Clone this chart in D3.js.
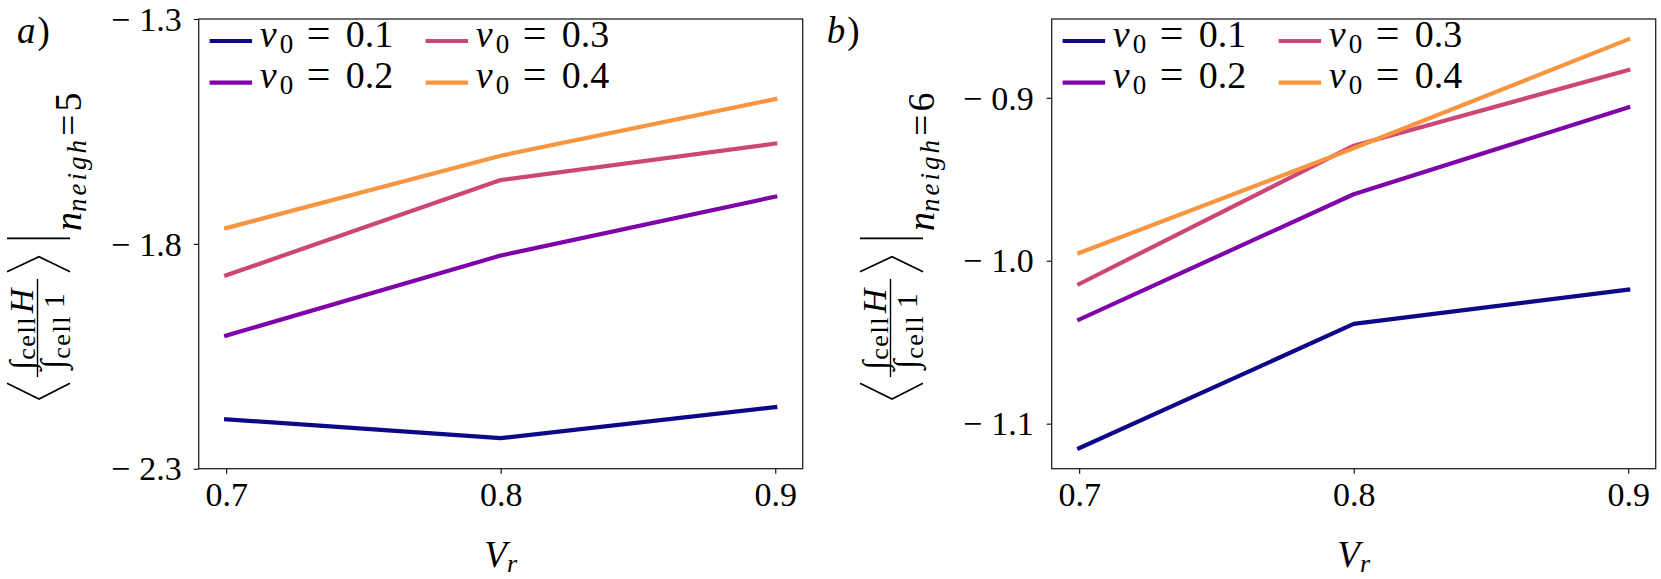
<!DOCTYPE html>
<html><head><meta charset="utf-8">
<script src="https://cdn.jsdelivr.net/npm/d3@7"></script>
<style>
body{margin:0;background:#fff;}
svg{display:block;background:#fff;}
svg text{font-family:"Liberation Serif","DejaVu Serif",serif;fill:#000;}
</style></head><body>
<svg id="chart" width="1661" height="579" font-family="Liberation Serif"></svg>
<script>
// ---- data ----
const vr = [0.7, 0.8, 0.9];
const v0Labels = ["0.1", "0.2", "0.3", "0.4"];
// panel a: n_neigh = 5
const a_v01 = [-2.190, -2.232, -2.163];
const a_v02 = [-2.004, -1.826, -1.695];
const a_v03 = [-1.870, -1.658, -1.577];
const a_v04 = [-1.765, -1.604, -1.478];
// panel b: n_neigh = 6
const b_v01 = [-1.1151, -1.0388, -1.0178];
const b_v02 = [-1.0361, -0.9592, -0.9059];
const b_v03 = [-1.0143, -0.9294, -0.8830];
const b_v04 = [-0.9953, -0.9310, -0.8642];
const xTicks = [0.7, 0.8, 0.9];
const aYTicks = [-2.3, -1.8, -1.3];
const bYTicks = [-1.1, -1.0, -0.9];
const aYLimits = [-2.3, -1.3];
const colors = ["#0d0887", "#7e03a8", "#cc4778", "#f89540"];

// ---- layout ----
const FONT = "Liberation Serif";
const svg = d3.select("#chart");
function padExtent(arr) {
  const e = d3.extent(arr); const p = 0.05 * (e[1] - e[0]);
  return [e[0] - p, e[1] + p];
}
const bAll = [].concat(b_v01, b_v02, b_v03, b_v04);
const panels = [
  {left: 198.7, right: 802.7, top: 19, bottom: 468.7,
   series: [a_v01, a_v02, a_v03, a_v04], yDomain: aYLimits, yTicks: aYTicks,
   tag: "a", tagX: 17, nn: "5", ylx: 0, tickGap: 17},
  {left: 1051.7, right: 1655.7, top: 19, bottom: 468.7,
   series: [b_v01, b_v02, b_v03, b_v04], yDomain: padExtent(bAll), yTicks: bYTicks,
   tag: "b", tagX: 826.7, nn: "6", ylx: 853, tickGap: 18}
];
const fmt = d3.format(".1f");
const TICK_FS = 34, LAB_FS = 37;
const txt = (sel) => sel.append("text").attr("font-family", FONT).attr("fill", "#000");

function yLabel(ox, digit) {
  const g = svg.append("g").attr("transform", `translate(${ox},0) rotate(-90)`);
  const P = (sx, sy) => [-sy, sx];
  const ln = d3.line();
  const stroke = (sel, w) => sel.attr("fill", "none").attr("stroke", "#000").attr("stroke-width", w);
  // angle brackets and evaluation bar
  stroke(g.append("path").attr("d", ln([P(7, 383.3), P(39, 399), P(70, 383.3)])), 1.6);
  stroke(g.append("path").attr("d", ln([P(7, 271.7), P(39, 256.7), P(70, 271.7)])), 1.6);
  stroke(g.append("path").attr("d", ln([P(7, 238.3), P(70, 238.3)])), 1.7);
  // fraction bar
  stroke(g.append("path").attr("d", ln([P(37.5, 377), P(37.5, 279)])), 1.4);
  // numerator
  const num = txt(g).attr("x", -370).attr("y", 33).attr("font-size", 34);
  num.append("tspan").text("\u222B");
  num.append("tspan").attr("font-size", 26).attr("dy", 2).attr("dx", 1).attr("letter-spacing", 1.5).text("cell");
  num.append("tspan").attr("font-size", 34).attr("font-style", "italic").attr("dy", -2).attr("dx", 3).text("H");
  // denominator
  const den = txt(g).attr("x", -369).attr("y", 64).attr("font-size", 34);
  den.append("tspan").text("\u222B");
  den.append("tspan").attr("font-size", 26).attr("dy", 6).attr("dx", 1).attr("letter-spacing", 1.5).text("cell");
  den.append("tspan").attr("font-size", 30).attr("dy", -6).attr("dx", 7).text("1");
  // subscript n_neigh = digit
  const sub = txt(g).attr("x", -231).attr("y", 81).attr("font-size", 38);
  sub.append("tspan").attr("font-style", "italic").text("n");
  sub.append("tspan").attr("font-style", "italic").attr("font-size", 27).attr("dy", 5).attr("letter-spacing", 3).text("neigh");
  sub.append("tspan").attr("dy", -5).attr("dx", 1).text("=");
  sub.append("tspan").attr("dx", 3).text(digit);
}

panels.forEach(p => {
  const x = d3.scaleLinear().domain(padExtent(vr)).range([p.left, p.right]);
  const y = d3.scaleLinear().domain(p.yDomain).range([p.bottom, p.top]);

  // lines
  const line = d3.line().x((d, i) => x(vr[i])).y(d => y(d));
  p.series.forEach((s, k) => {
    svg.append("path").attr("d", line(s)).attr("fill", "none")
      .attr("stroke", colors[k]).attr("stroke-width", 4.2)
      .attr("stroke-linecap", "square").attr("stroke-linejoin", "round");
  });

  // x axis
  const xa = svg.append("g").attr("transform", `translate(0,${p.bottom})`)
    .call(d3.axisBottom(x).tickValues(xTicks).tickSize(5).tickFormat(fmt));
  xa.attr("font-family", FONT);
  xa.select(".domain").remove();
  xa.selectAll(".tick line").attr("stroke", "#000").attr("stroke-width", 1.1);
  xa.selectAll(".tick text").attr("y", 37.5).attr("dy", null)
    .attr("font-size", TICK_FS).attr("font-family", FONT).attr("fill", "#000");

  // y axis
  const ya = svg.append("g").attr("transform", `translate(${p.left},0)`)
    .call(d3.axisLeft(y).tickValues(p.yTicks).tickSize(5).tickFormat(fmt));
  ya.attr("font-family", FONT);
  ya.select(".domain").remove();
  ya.selectAll(".tick line").attr("stroke", "#000").attr("stroke-width", 1.1);
  ya.selectAll(".tick text").each(function(d) {
    const t = d3.select(this);
    const s = fmt(Math.abs(d));
    t.text(null).attr("x", -p.tickGap).attr("dy", "0.33em")
      .attr("font-size", TICK_FS).attr("font-family", FONT).attr("fill", "#000");
    if (d < 0) {
      t.append("tspan").text("\u2212");
      t.append("tspan").attr("dx", 9).text(s);
    } else t.text(s);
  });

  // frame
  svg.append("rect").attr("x", p.left).attr("y", p.top)
    .attr("width", p.right - p.left).attr("height", p.bottom - p.top)
    .attr("fill", "none").attr("stroke", "#222").attr("stroke-width", 1.3);

  // legend
  const cols = [13, 229], rows = [22, 63.7];
  v0Labels.forEach((lab, k) => {
    const cx = p.left + cols[Math.floor(k / 2)], cy = p.top + rows[k % 2];
    svg.append("line").attr("x1", cx).attr("x2", cx + 38.3).attr("y1", cy).attr("y2", cy)
      .attr("stroke", colors[k]).attr("stroke-width", 4.2).attr("stroke-linecap", "square");
    const tx = cx + 48, by = cy + 5.7;
    const t = txt(svg).attr("y", by).attr("font-size", 38);
    t.append("tspan").attr("x", tx).attr("font-style", "italic").text("v");
    t.append("tspan").attr("x", tx + 20).attr("dy", 6).attr("font-size", 27).text("0");
    t.append("tspan").attr("x", tx + 47).attr("dy", -6).attr("font-size", 42).text("=");
    t.append("tspan").attr("x", tx + 86).text(lab);
  });

  // x label
  const xl = txt(svg).attr("x", (p.left + p.right) / 2).attr("y", 567)
    .attr("text-anchor", "middle").attr("font-size", LAB_FS);
  xl.append("tspan").attr("font-style", "italic").text("V");
  xl.append("tspan").attr("font-style", "italic").attr("font-size", 26).attr("dy", 5).text("r");

  // panel tag
  const tg = txt(svg).attr("x", p.tagX).attr("y", 43).attr("font-size", LAB_FS);
  tg.append("tspan").attr("font-style", "italic").text(p.tag);
  tg.append("tspan").attr("dx", 2).text(")");

  // y label
  yLabel(p.ylx, p.nn);
});
</script>
</body></html>
